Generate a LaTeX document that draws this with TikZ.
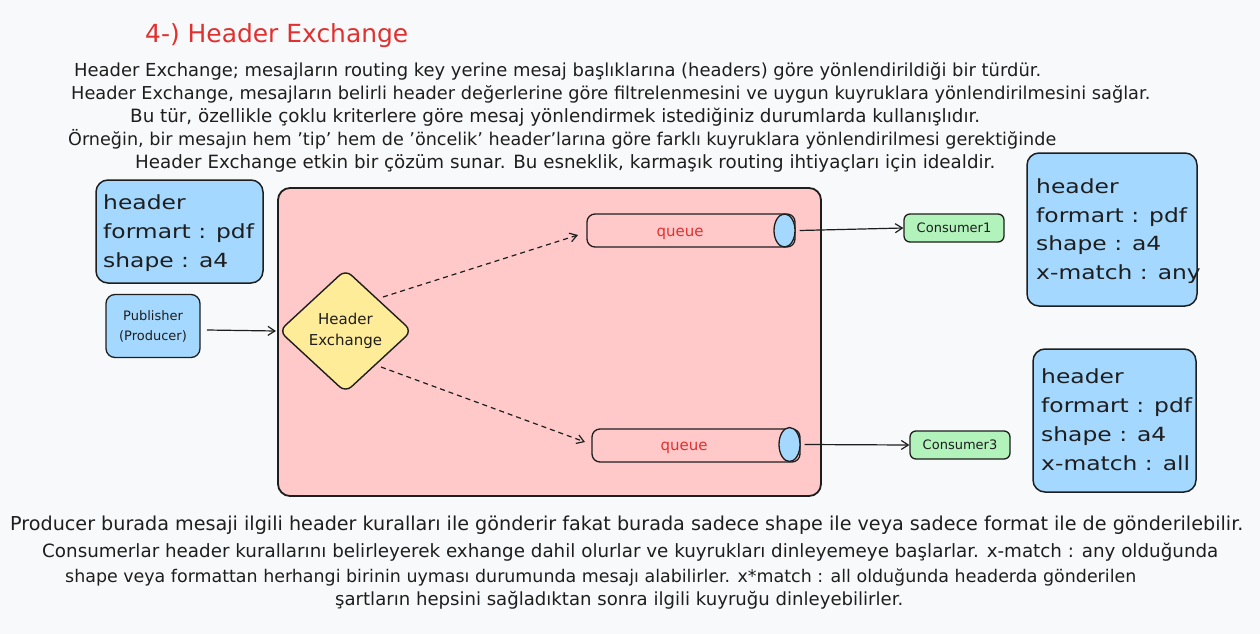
\documentclass[tikz,border=0pt]{standalone}
\usepackage{fontspec}
\setmainfont{DejaVu Sans}
\newfontfamily\handw[FakeStretch=1.2]{DejaVu Sans}
\usetikzlibrary{arrows.meta,shapes.geometric}
\definecolor{bg}{HTML}{F8F9FA}
\definecolor{ink}{HTML}{1E1E1E}
\definecolor{lblue}{HTML}{A5D8FF}
\definecolor{lpink}{HTML}{FFC9C9}
\definecolor{lyellow}{HTML}{FFEC99}
\definecolor{lgreen}{HTML}{B2F2BB}
\definecolor{tred}{HTML}{E03131}
\newcommand\fw[2]{\resizebox{#1pt}{!}{#2}}
\tikzset{
  txt/.style={inner sep=0pt, anchor=base west, text=ink, font=\fontsize{16}{20}\selectfont},
  boxtxt/.style={inner sep=0pt, anchor=base west, text=ink, font=\handw\fontsize{19.5}{29}\selectfont},
  panel/.style={draw=ink, line width=1.5pt, rounded corners=12pt},
  arr/.style={draw=ink, line width=1.2pt, -{Straight Barb[length=7pt,width=9pt]}},
  darr/.style={arr, dash pattern=on 5pt off 4pt},
  qtxt/.style={inner sep=0pt, anchor=base, text=tred, font=\fontsize{15}{18}\selectfont},
  cons/.style={draw=ink, line width=1.3pt, fill=lgreen, rounded corners=6pt, minimum width=100pt, minimum height=28pt, inner sep=0pt, font=\fontsize{13}{16}\selectfont, text=ink},
}
\begin{document}
\begin{tikzpicture}[x=1pt,y=-1pt]
\useasboundingbox (0,0) rectangle (1260,634);
\fill[bg] (0,0) rectangle (1260,634);

% title
\node[txt, text=tred] (title) at (145,42) {\fw{263}{4-) Header Exchange}};

% intro paragraph
\node[txt] (p1) at (74,76) {\fw{967}{Header Exchange; mesajların routing key yerine mesaj başlıklarına (headers) göre yönlendirildiği bir türdür.}};
\node[txt] (p2) at (71,99) {\fw{1079}{Header Exchange, mesajların belirli header değerlerine göre filtrelenmesini ve uygun kuyruklara yönlendirilmesini sağlar.}};
\node[txt] (p3) at (130,122) {\fw{850}{Bu tür, özellikle çoklu kriterlere göre mesaj yönlendirmek istediğiniz durumlarda kullanışlıdır.}};
\node[txt] (p4) at (68,145) {\fw{988}{Örneğin, bir mesajın hem 'tip' hem de 'öncelik' header'larına göre farklı kuyruklara yönlendirilmesi gerektiğinde}};
\node[txt] (p5) at (135,168) {\fw{860}{Header Exchange etkin bir çözüm sunar. Bu esneklik, karmaşık routing ihtiyaçları için idealdir.}};

% left header box
\filldraw[panel, fill=lblue] (96,180) rectangle (263,283);
\node[boxtxt] (lh1) at (103,209) {header};
\node[boxtxt] (lh2) at (103,238) {formart : pdf};
\node[boxtxt] (lh3) at (103,267) {shape : a4};

% publisher
\node[draw=ink, line width=1.3pt, fill=lblue, rounded corners=9pt, minimum width=94pt, minimum height=63pt, inner sep=0pt, align=center, font=\fontsize{13}{20}\selectfont, text=ink] (pub) at (153,326) {Publisher\\(Producer)};

% exchange area
\filldraw[panel, line width=1.8pt, fill=lpink] (278,188) rectangle (821,496);

% diamond
\node[draw=ink, line width=1.4pt, fill=lyellow, diamond, rounded corners=8pt, minimum width=133pt, minimum height=123pt, inner sep=0pt, align=center, font=\fontsize{15}{21}\selectfont, text=ink] (ex) at (345.5,331) {Header\\Exchange};

% queues
\filldraw[draw=ink, line width=1.3pt, fill=lpink, rounded corners=8pt] (587,214) rectangle (795,247);
\node[draw=ink, line width=1.3pt, fill=lblue, ellipse, minimum width=21pt, minimum height=33pt, inner sep=0pt] (q1e) at (784.5,230.5) {};
\node[qtxt] (q1) at (680,236) {queue};

\filldraw[draw=ink, line width=1.3pt, fill=lpink, rounded corners=8pt] (592,429) rectangle (800,462);
\node[draw=ink, line width=1.3pt, fill=lblue, ellipse, minimum width=21pt, minimum height=34pt, inner sep=0pt] (q2e) at (789.5,444.5) {};
\node[qtxt] (q2) at (684,450) {queue};

% consumers
\node[cons] (c1) at (954,228) {Consumer1};
\node[cons] (c3) at (960,445) {Consumer3};

% right header boxes
\filldraw[panel, fill=lblue] (1027,153) rectangle (1197,306);
\node[boxtxt] (r1a) at (1036,193) {header};
\node[boxtxt] (r1b) at (1036,222) {formart : pdf};
\node[boxtxt] (r1c) at (1036,250) {shape : a4};
\node[boxtxt] (r1d) at (1036,279) {x-match : any};

\filldraw[panel, fill=lblue] (1033,349) rectangle (1196,492);
\node[boxtxt] (r2a) at (1041,383) {header};
\node[boxtxt] (r2b) at (1041,412) {formart : pdf};
\node[boxtxt] (r2c) at (1041,441) {shape : a4};
\node[boxtxt] (r2d) at (1041,470) {x-match : all};

% connectors
\coordinate (pubs) at (207,330);
\coordinate (exin) at (276,331);
\draw[arr] (pubs) -- (exin);
\coordinate (d1s) at (383,297);
\coordinate (d1e) at (578,235);
\coordinate (d2s) at (381,367);
\coordinate (d2e) at (585,442);
\draw[darr] (d1s) -- (d1e);
\draw[darr] (d2s) -- (d2e);
\draw[arr] (q1e.east) ++(4,0) coordinate (q1o) -- (c1.west);
\draw[arr] (q2e.east) ++(4,0) coordinate (q2o) -- (c3.west);

% bottom paragraph
\node[txt] (b1) at (10,530) {\fw{1233}{Producer burada mesaji ilgili header kuralları ile gönderir fakat burada sadece shape ile veya sadece format ile de gönderilebilir.}};
\node[txt] (b2) at (42,557) {\fw{1176}{Consumerlar header kurallarını belirleyerek exhange dahil olurlar ve kuyrukları dinleyemeye başlarlar. x-match : any olduğunda}};
\node[txt] (b3) at (65,582) {\fw{1071}{shape veya formattan herhangi birinin uyması durumunda mesajı alabilirler. x*match : all olduğunda headerda gönderilen}};
\node[txt] (b4) at (335,605) {\fw{568}{şartların hepsini sağladıktan sonra ilgili kuyruğu dinleyebilirler.}};
\end{tikzpicture}
\end{document}
